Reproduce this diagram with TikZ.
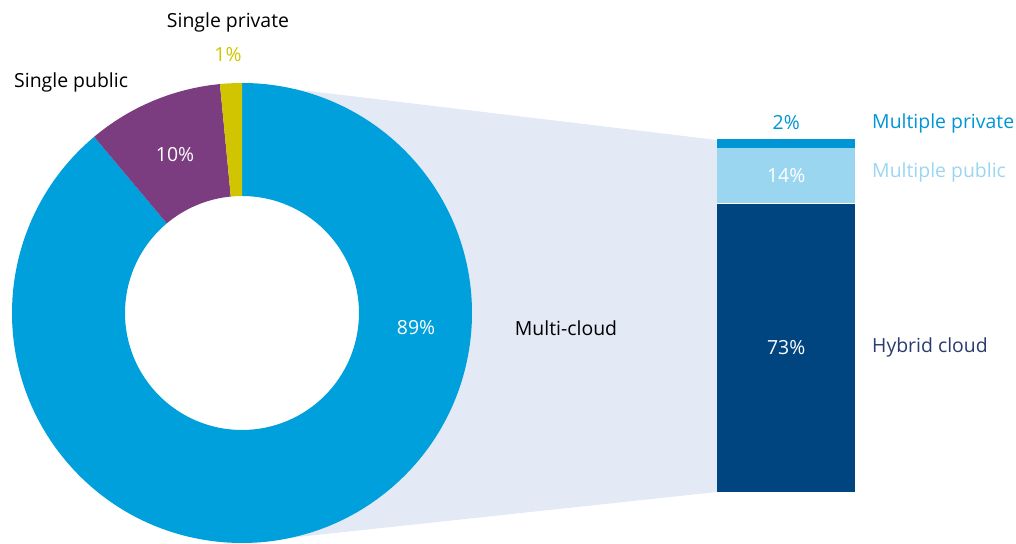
\documentclass[tikz,border=0pt]{standalone}
\usepackage{fontspec}
\setmainfont{Open Sans}
\usepackage{tikz}
\usetikzlibrary{positioning}

\definecolor{cloudblue}{RGB}{0,160,221}
\definecolor{pubpurple}{RGB}{123,61,128}
\definecolor{privyellow}{RGB}{209,196,0}
\definecolor{bandgray}{RGB}{227,234,246}
\definecolor{multipriv}{RGB}{0,150,214}
\definecolor{multipub}{RGB}{155,214,241}
\definecolor{hybnavy}{RGB}{0,68,128}
\definecolor{hybtext}{RGB}{42,60,110}

\begin{document}
\begin{tikzpicture}[
    x=1bp, y=1bp,
    every node/.style={font=\fontsize{19.5}{22}\selectfont, inner sep=0pt},
    pct/.style={text=white},
    barseg/.style={minimum width=138bp, text=white},
    side label/.style={anchor=west}
]
    \useasboundingbox (0,0) rectangle (1016,544);

    % --- BAND (Donut to bar) ---
    \coordinate (bandTL) at (242,461);
    \coordinate (bandBL) at (242,1);
    \coordinate (barTL) at (717,404);
    \coordinate (barBL) at (717,52);
    \fill[bandgray] (bandTL) -- (barTL) -- (barBL) -- (bandBL) -- cycle;

    % --- DONUT (center 242,231) ---
    \coordinate (c) at (242,231);
    \fill[white] (c) circle (117);
    \fill[cloudblue] ([shift={(130:230)}]c) arc (130:450:230)
        -- ([shift={(90:117)}]c) arc (450:130:117) -- cycle;
    \fill[pubpurple] ([shift={(95.5:230)}]c) arc (95.5:130:230)
        -- ([shift={(130:117)}]c) arc (130:95.5:117) -- cycle;
    \fill[privyellow] ([shift={(90:230)}]c) arc (90:95.5:230)
        -- ([shift={(95.5:117)}]c) arc (95.5:90:117) -- cycle;

    % --- DONUT LABELS ---
    \node (sprivname) at (228,522) {Single private};
    \node[text=privyellow] (sprivpct) at (228,489) {1\%};
    \node[anchor=west] (spubname) at (14,462) {Single public};
    \node[pct] (spubpct) at (175,389) {10\%};
    \node[pct] (multipct) at (416,216) {89\%};
    \node (multiname) at (566,216) {Multi-cloud};

    % --- BAR (Multi-cloud split) ---
    \node[barseg, fill=hybnavy, minimum height=288bp, anchor=south west] (hyb) at (barBL) {73\%};
    \node[barseg, fill=multipub, minimum height=55bp, above=0pt of hyb] (mpub) {14\%};
    \node[barseg, fill=multipriv, minimum height=9bp, above=0pt of mpub] (mpriv) {};
    \node[text=multipriv, above=9bp of mpriv] (mprivpct) {2\%};

    % --- BAR LABELS ---
    \node[side label, text=multipriv] (mprivname) at (872,421) {Multiple private};
    \node[side label, text=multipub] (mpubname) at (872,372) {Multiple public};
    \node[side label, text=hybtext] (hybname) at (872,197) {Hybrid cloud};

\end{tikzpicture}
\end{document}
